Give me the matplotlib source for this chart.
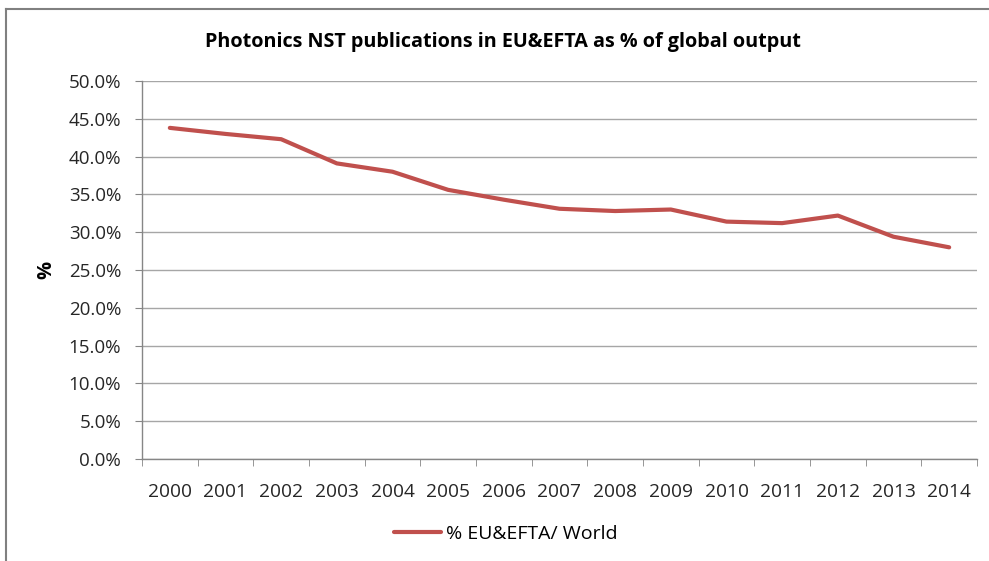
import matplotlib
matplotlib.use("Agg")
import matplotlib.pyplot as plt
from matplotlib.lines import Line2D
from matplotlib.ticker import FuncFormatter, FixedLocator

plt.rcParams['font.family'] = ['Open Sans', 'DejaVu Sans']

# data
years = ['2000', '2001', '2002', '2003', '2004', '2005', '2006', '2007',
         '2008', '2009', '2010', '2011', '2012', '2013', '2014']
share = [43.8, 43.0, 42.3, 39.1, 38.0, 35.6, 34.3, 33.1,
         32.8, 33.0, 31.4, 31.2, 32.2, 29.4, 28.0]
yticks = [0, 5, 10, 15, 20, 25, 30, 35, 40, 45, 50]

red = '#C0504D'
grid_c = '#A6A6A6'
axis_c = '#868686'

fig = plt.figure(figsize=(9.89, 5.61), dpi=100)
ax = fig.add_axes([142 / 989, 1 - 459 / 561, 835 / 989, 378 / 561])

xs = list(range(len(years)))
ax.plot(xs, share, color=red, lw=3.0, solid_capstyle='round',
        label='% EU&EFTA/ World')

ax.set_xlim(-0.5, len(years) - 0.5)
ax.set_ylim(0, 50)
ax.set_yticks(yticks)
ax.yaxis.set_major_formatter(FuncFormatter(lambda v, p: '%.1f%%' % v))
ax.set_xticks(xs)
ax.set_xticklabels(years)
ax.xaxis.set_minor_locator(FixedLocator([i - 0.5 for i in range(len(years) + 1)]))

ax.grid(axis='y', color=grid_c, lw=1.0)
ax.set_axisbelow(True)
for s in ['top', 'right']:
    ax.spines[s].set_visible(False)
for s in ['left', 'bottom']:
    ax.spines[s].set_color(axis_c)
    ax.spines[s].set_linewidth(1.0)

ax.tick_params(axis='y', length=5, color=axis_c, labelsize=13.5, pad=10, labelcolor='#262626')
ax.tick_params(axis='x', which='major', length=0, labelsize=13.8, pad=17, labelcolor='#262626')
ax.tick_params(axis='x', which='minor', length=5, color=axis_c)

ax.set_ylabel('%', fontsize=14.5, fontweight='bold')
ax.yaxis.set_label_coords(-0.103, 0.5)

fig.text(503 / 989, 1 - 42 / 561, 'Photonics NST publications in EU&EFTA as % of global output',
         ha='center', va='center', fontsize=14.2, fontweight='bold')

leg = fig.legend(loc='center', bbox_to_anchor=(506 / 989, 1 - 534 / 561), frameon=False,
                 fontsize=14, handlelength=2.4, handletextpad=0.3)

# chart frame
fig.add_artist(Line2D([6 / 989, 6 / 989], [0, 1 - 9 / 561], color='#808080', lw=1.5))
fig.add_artist(Line2D([6 / 989, 1], [1 - 9 / 561, 1 - 9 / 561], color='#808080', lw=1.5))

fig.savefig('out.png', dpi=100)
